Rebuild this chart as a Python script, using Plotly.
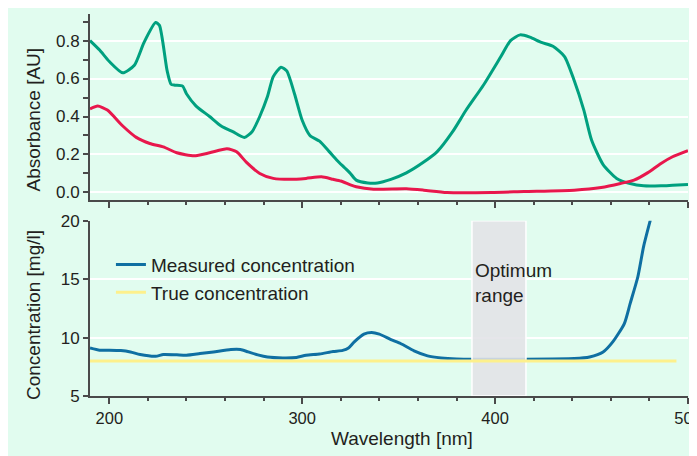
import plotly.graph_objects as go

# absorbance spectra (top panel)
green_x = [190, 195, 200, 207, 213, 218, 224, 226, 230, 232, 234, 238, 240, 245, 252, 258, 264, 270,
           274, 278, 282, 285, 289, 292, 296, 300, 304, 309, 314, 318, 322, 325, 328, 334, 339, 346,
           354, 363, 370, 378, 385, 394, 403, 408, 413, 418, 424, 430, 436, 441, 446, 450, 456, 463,
           470, 477, 486, 492, 500]
green_y = [0.80, 0.75, 0.69, 0.63, 0.67, 0.79, 0.895, 0.88, 0.64, 0.57, 0.565, 0.56, 0.52, 0.455, 0.40,
           0.35, 0.32, 0.29, 0.32, 0.40, 0.505, 0.61, 0.66, 0.64, 0.52, 0.38, 0.30, 0.27, 0.215, 0.17,
           0.13, 0.10, 0.065, 0.05, 0.05, 0.069, 0.103, 0.16, 0.215, 0.32, 0.434, 0.566, 0.716, 0.80,
           0.83, 0.818, 0.79, 0.77, 0.716, 0.59, 0.434, 0.276, 0.147, 0.074, 0.047, 0.035, 0.035,
           0.038, 0.042]

red_x = [190, 194, 199, 207, 214, 221, 228, 235, 244, 252, 261, 266, 271, 278, 285, 294, 302, 310,
         316, 320, 325, 328, 337, 354, 363, 375, 398, 415, 441, 455, 465, 472, 479, 486, 492, 500]
red_y = [0.44, 0.455, 0.434, 0.35, 0.29, 0.258, 0.24, 0.209, 0.193, 0.209, 0.23, 0.214, 0.16, 0.10,
         0.074, 0.069, 0.074, 0.082, 0.069, 0.06, 0.04, 0.03, 0.017, 0.019, 0.012, 0.0, 0.0, 0.005,
         0.012, 0.026, 0.047, 0.065, 0.103, 0.153, 0.188, 0.22]

# concentration (bottom panel)
meas_x = [190, 195, 200, 206, 211, 216, 224, 228, 235, 240, 247, 254, 263, 268, 272, 277, 282, 290,
          297, 302, 309, 316, 321, 324, 327, 332, 336, 340, 346, 351, 358, 365, 372, 380, 389, 415,
          441, 449, 456, 461, 467, 470, 474, 477, 480.5]
meas_y = [9.11, 8.92, 8.92, 8.89, 8.77, 8.55, 8.40, 8.55, 8.52, 8.49, 8.63, 8.77, 8.97, 8.97, 8.77,
          8.52, 8.34, 8.26, 8.30, 8.49, 8.60, 8.80, 8.90, 9.10, 9.63, 10.29, 10.43, 10.29, 9.83, 9.49,
          8.86, 8.43, 8.26, 8.17, 8.14, 8.14, 8.20, 8.34, 8.77, 9.63, 11.2, 12.9, 15.2, 17.8, 20.06]

true_x = [190, 494]
true_y = [8.0, 8.0]

opt_range = [388, 416]
conc_range = [5, 20]

FONT = "Liberation Sans, Arial, sans-serif"
INK = "#231f20"
MINT = "#e1fcef"
AXIS = "#4a4a4a"

fig = go.Figure()

fig.add_trace(go.Scatter(x=green_x, y=green_y, mode="lines", xaxis="x", yaxis="y",
                         line=dict(color="#00a07f", width=3, shape="spline", smoothing=0.6),
                         showlegend=False, hoverinfo="skip"))
fig.add_trace(go.Scatter(x=red_x, y=red_y, mode="lines", xaxis="x", yaxis="y",
                         line=dict(color="#e8174c", width=3, shape="spline", smoothing=0.6),
                         showlegend=False, hoverinfo="skip"))

fig.add_trace(go.Scatter(x=meas_x, y=meas_y, mode="lines", xaxis="x2", yaxis="y2",
                         name="Measured concentration",
                         line=dict(color="#0f6fa2", width=3, shape="spline", smoothing=0.6)))

# optimum range band, drawn over the measured curve
fig.add_trace(go.Scatter(x=[opt_range[0], opt_range[0], opt_range[1], opt_range[1], opt_range[0]],
                         y=[conc_range[0], conc_range[1], conc_range[1], conc_range[0], conc_range[0]],
                         mode="lines", fill="toself", fillcolor="rgba(227,227,231,0.88)",
                         line=dict(color="white", width=1.5), xaxis="x2", yaxis="y2",
                         showlegend=False, hoverinfo="skip"))

fig.add_trace(go.Scatter(x=true_x, y=true_y, mode="lines", xaxis="x2", yaxis="y2",
                         name="True concentration",
                         line=dict(color="#fdf08c", width=3)))

xcommon = dict(range=[190, 500], showline=True, linecolor=AXIS, linewidth=2, automargin=False,
               ticks="outside", ticklen=6, tickwidth=2, tickcolor=AXIS,
               tick0=0, dtick=100, showgrid=False, zeroline=False,
               minor=dict(ticks="outside", dtick=20, ticklen=3, tickwidth=2, tickcolor=AXIS),
               tickfont=dict(size=16.5, color=INK, family=FONT))

fig.update_layout(
    width=697, height=456,
    margin=dict(l=82, r=17, t=6, b=68),
    paper_bgcolor=MINT,
    plot_bgcolor=MINT,
    font=dict(family=FONT, color=INK),
    xaxis=dict(xcommon, anchor="y", showticklabels=False),
    yaxis=dict(domain=[0.513, 1], range=[-0.04, 0.94], tick0=0, dtick=0.2, tickformat=".1f",
               showline=True, linecolor=AXIS, linewidth=2, ticks="outside", ticklen=5,
               tickwidth=2, tickcolor=AXIS, showgrid=True, gridcolor="white", gridwidth=2,
               zeroline=False, automargin=False,
               minor=dict(ticks="outside", dtick=0.1, ticklen=5, tickwidth=2, tickcolor=AXIS),
               tickfont=dict(size=17, color=INK, family=FONT)),
    xaxis2=dict(xcommon, anchor="y2"),
    yaxis2=dict(domain=[0, 0.459], range=conc_range, tick0=0, dtick=5,
                showline=True, linecolor=AXIS, linewidth=2, ticks="outside", ticklen=5,
                tickwidth=2, tickcolor=AXIS, showgrid=True, gridcolor="white", gridwidth=2,
                zeroline=False, automargin=False, tickfont=dict(size=17, color=INK, family=FONT)),
    legend=dict(x=0.035, y=0.3935, xanchor="left", yanchor="top", bgcolor="rgba(0,0,0,0)",
                font=dict(size=19, color=INK, family=FONT), tracegroupgap=0),
    annotations=[
        dict(text="Absorbance [AU]", xref="paper", yref="paper", x=-0.0953, y=0.7238,
             xanchor="center", yanchor="middle", textangle=-90, showarrow=False,
             font=dict(size=19, color=INK, family=FONT)),
        dict(text="Concentration [mg/l]", xref="paper", yref="paper", x=-0.0953, y=0.212,
             xanchor="center", yanchor="middle", textangle=-90, showarrow=False,
             font=dict(size=19, color=INK, family=FONT)),
        dict(text="Wavelength [nm]", xref="paper", yref="paper", x=0.521, y=-0.11,
             xanchor="center", yanchor="middle", showarrow=False,
             font=dict(size=19, color=INK, family=FONT)),
        dict(text="Optimum<br>range", xref="x2", yref="y2", x=388.5, y=14.7,
             xanchor="left", yanchor="middle", align="left", showarrow=False,
             font=dict(size=19, color=INK, family=FONT)),
    ],
)

fig.write_html("out.html")
